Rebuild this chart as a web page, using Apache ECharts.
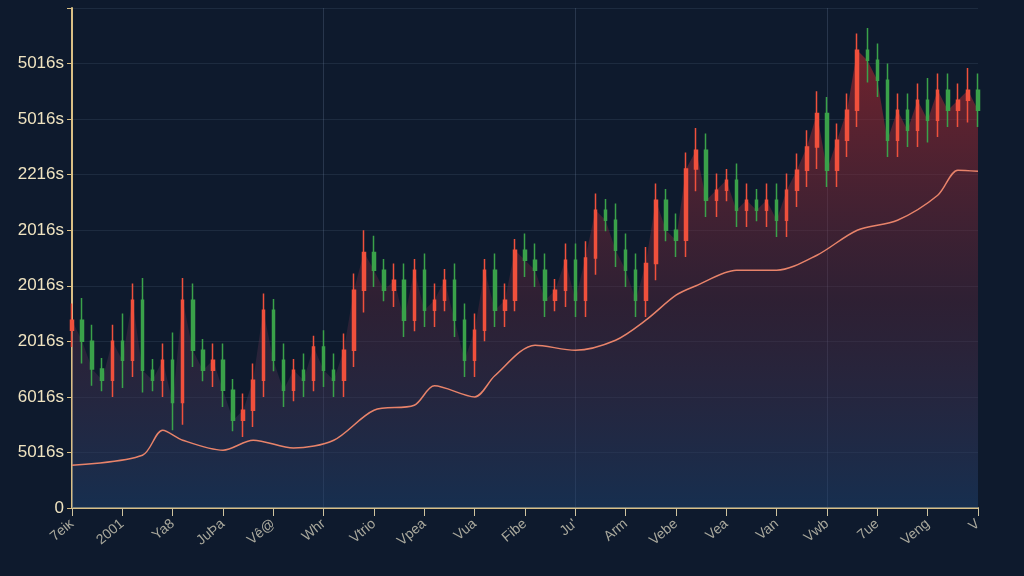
<!DOCTYPE html>
<html><head><meta charset="utf-8">
<script src="https://cdn.jsdelivr.net/npm/echarts@6/dist/echarts.min.js"></script>
<style>html,body{margin:0;background:#0e1a2d}#c{width:1024px;height:576px}</style>
</head><body><div id="c"></div>
<script>
const yTickLabels=["0","5016s","6016s","2016s","2016s","2016s","2216s","5016s","5016s",""];
const xTickLabels=["7eiĸ","2001","Ya8","JuÞa","Vê@","Whr","Vtrio","Vpea","Vua","Fibe","Ju'","Arm","Vebe","Vea","Van","Vwb","7ue","Veng","V"];
const closes=[3.38,3.0,2.5,2.3,3.0,2.66,3.74,2.48,2.3,2.66,1.9,3.74,2.84,2.48,2.66,2.12,1.58,1.76,2.3,3.56,2.66,2.12,2.48,2.3,2.9,2.48,2.3,2.84,3.92,4.6,4.28,3.92,4.1,3.38,4.28,3.56,3.74,4.1,3.38,2.66,3.2,4.28,3.56,3.74,4.64,4.46,4.28,3.74,3.92,4.46,3.74,4.5,5.36,5.18,4.64,4.28,3.74,4.4,5.54,5.0,4.82,6.1,6.44,5.54,5.72,5.9,5.36,5.54,5.36,5.54,5.18,5.72,6.08,6.5,7.1,6.08,6.62,7.16,8.24,8.06,7.7,6.62,7.16,6.8,7.34,6.98,7.52,7.16,7.34,7.52,7.16];
const opens=[3.2,3.38,3.0,2.5,2.3,3.0,2.66,3.74,2.48,2.3,2.66,1.9,3.74,2.84,2.48,2.66,2.12,1.58,1.76,2.3,3.56,2.66,2.12,2.48,2.3,2.9,2.48,2.3,2.84,3.92,4.6,4.28,3.92,4.1,3.38,4.28,3.56,3.74,4.1,3.38,2.66,3.2,4.28,3.56,3.74,4.64,4.46,4.28,3.74,3.92,4.46,3.74,4.5,5.36,5.18,4.64,4.28,3.74,4.4,5.54,5.0,4.82,6.1,6.44,5.54,5.72,5.9,5.36,5.54,5.36,5.54,5.18,5.72,6.08,6.5,7.1,6.08,6.62,7.16,8.24,8.06,7.7,6.62,7.16,6.8,7.34,6.98,7.52,7.16,7.34,7.52];
const wicks=[0.3,0.4,0.3,0.2,0.3,0.5,0.3,0.4,0.2,0.3,0.5,0.4,0.3,0.2,0.3,0.3,0.2,0.3,0.3,0.3,0.2,0.3,0.2,0.3,0.2,0.3,0.3,0.3,0.3,0.4,0.3,0.2,0.3,0.3,0.2,0.3,0.3,0.2,0.3,0.3,0.3,0.2,0.3,0.3,0.2,0.3,0.3,0.3,0.2,0.3,0.3,0.3,0.3,0.2,0.3,0.3,0.3,0.3,0.3,0.2,0.3,0.3,0.4,0.3,0.3,0.2,0.3,0.3,0.2,0.3,0.3,0.3,0.3,0.3,0.4,0.3,0.3,0.3,0.3,0.4,0.3,0.3,0.3,0.3,0.3,0.4,0.3,0.3,0.3,0.4,0.3];
const maVals={0:0.77,7:0.95,9:1.4,11:1.22,15:1.04,18:1.22,22:1.08,26:1.22,30:1.76,34:1.85,36:2.2,40:2.0,42:2.38,46:2.93,50:2.84,54:3.02,57:3.38,60:3.83,62:4.0,66:4.28,70:4.28,74:4.55,78:5.0,82:5.18,86:5.63,88:6.08,90:6.06};

const n=closes.length;
const cats=[],ohlc=[],ma=[];
for(let i=0;i<n;i++){
  cats.push(i%5===0?(xTickLabels[i/5]||''):'');
  const o=opens[i],c=closes[i];
  ohlc.push([o,c,Math.min(o,c)-wicks[i],Math.max(o,c)+wicks[i]]);
  ma.push(maVals[i]!==undefined?maVals[i]:null);
}
const ch=echarts.init(document.getElementById('c'));
ch.setOption({
  backgroundColor:'#0e1a2d',animation:false,
  grid:{left:72,right:46,top:8,bottom:68},
  xAxis:{type:'category',data:cats,boundaryGap:false,
    axisLine:{lineStyle:{color:'#d9bf85',width:2}},
    axisTick:{show:true,interval:4,length:8,lineStyle:{color:'#cfc4a0'}},
    axisLabel:{interval:4,rotate:40,color:'#a9a89c',fontFamily:'Liberation Sans',fontSize:14,margin:14},
    splitLine:{show:true,interval:24,lineStyle:{color:'rgba(120,140,170,0.25)'}}},
  yAxis:{type:'value',min:0,max:9,interval:1,
    axisLine:{show:true,lineStyle:{color:'#d9bf85',width:2}},
    axisTick:{show:true,length:5,lineStyle:{color:'#d9bf85'}},
    axisLabel:{color:'#efe3c0',fontFamily:'Liberation Sans Narrow, Liberation Sans',fontSize:17,formatter:(v)=>yTickLabels[v]},
    splitLine:{lineStyle:{color:'rgba(120,140,170,0.15)'}}},
  series:[
    {type:'line',data:closes,symbol:'none',lineStyle:{width:0},
      areaStyle:{color:new echarts.graphic.LinearGradient(0,0,0,1,[{offset:0,color:'rgba(170,40,45,0.9)'},{offset:0.55,color:'rgba(90,40,60,0.6)'},{offset:1,color:'rgba(30,65,110,0.75)'}])},z:1},
    {type:'candlestick',data:ohlc,barWidth:3,
      itemStyle:{color:'#f0503c',color0:'#3aa24a',borderColor:'#f0503c',borderColor0:'#3aa24a',borderWidth:1.5},z:3},
    {type:'line',data:ma,connectNulls:true,smooth:0.3,symbol:'none',
      lineStyle:{color:'#e8836a',width:1.5},z:4}
  ]
});
</script></body></html>
